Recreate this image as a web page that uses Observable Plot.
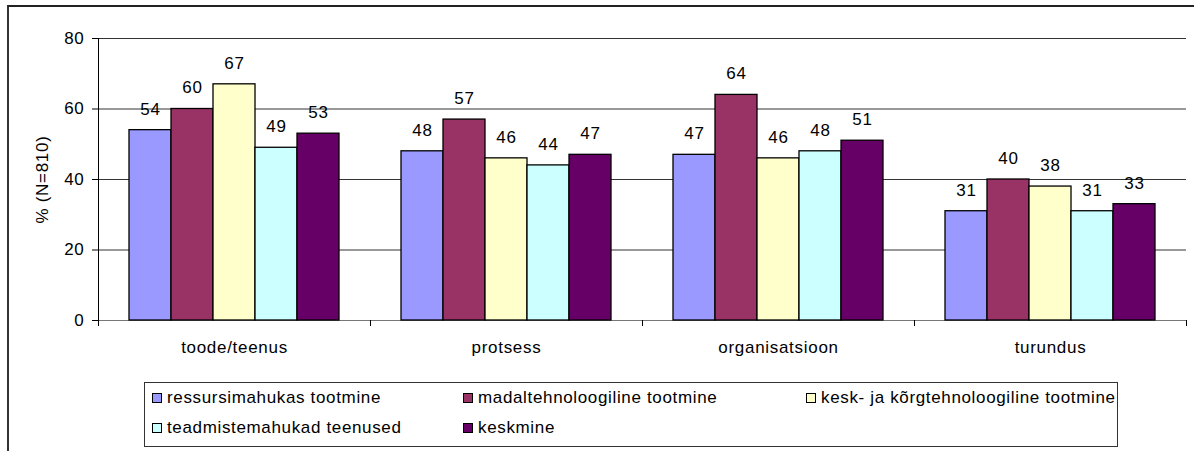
<!DOCTYPE html>
<html>
<head>
<meta charset="utf-8">
<script src="https://cdn.jsdelivr.net/npm/d3@7"></script>
<script src="https://cdn.jsdelivr.net/npm/@observablehq/plot@0.6"></script>
<style>
  html, body { margin: 0; padding: 0; background: #fff; }
  body { width: 1194px; height: 451px; overflow: hidden; position: relative; font-family: "Liberation Sans", Arial, sans-serif; }
  #frame { position: absolute; left: 7px; top: 5px; width: 1200px; height: 460px; border-left: 2px solid #333; border-top: 2px solid #222; box-sizing: border-box; pointer-events: none; }
  #chart { position: absolute; left: 0; top: 0; }
  #chart svg text { font-size: 17px; letter-spacing: 0.7px; }
  #legend { position: absolute; left: 144px; top: 382px; width: 974px; height: 65px; border: 1px solid #333; box-sizing: border-box; background: #fff; font-size: 17px; letter-spacing: 0.65px; color: #000; }
  .item { position: absolute; display: flex; align-items: center; white-space: nowrap; }
  .sw { width: 10px; height: 10px; border: 1px solid #000; margin-right: 5px; box-sizing: border-box; }
</style>
</head>
<body>
<div id="chart"></div>
<div id="frame"></div>
<div id="legend"></div>
<script>
const categories = ["toode/teenus", "protsess", "organisatsioon", "turundus"];
const series = ["ressursimahukas tootmine", "madaltehnoloogiline tootmine", "kesk- ja kõrgtehnoloogiline tootmine", "teadmistemahukad teenused", "keskmine"];
const colors = ["#9999FF", "#993366", "#FFFFCC", "#CCFFFF", "#660066"];
// values per series, in category order
const ressursimahukas = [54, 48, 47, 31];
const madaltehnoloogiline = [60, 57, 64, 40];
const keskKorgtehnoloogiline = [67, 46, 46, 38];
const teadmistemahukad = [49, 44, 48, 31];
const keskmine = [53, 47, 51, 33];
const yTicks = [0, 20, 40, 60, 80];
const yLabel = "% (N=810)";

const seriesValues = [ressursimahukas, madaltehnoloogiline, keskKorgtehnoloogiline, teadmistemahukad, keskmine];
const data = [];
categories.forEach((c, ci) => {
  series.forEach((s, si) => {
    data.push({cat: c, series: s, value: seriesValues[si][ci]});
  });
});

const font = '"Liberation Sans", Arial, sans-serif';
const plot = Plot.plot({
  width: 1194,
  height: 451,
  marginLeft: 98,
  marginRight: 8,
  marginTop: 38,
  marginBottom: 131,
  style: {fontFamily: font, fontSize: "17px", background: "transparent", overflow: "visible"},
  fx: {domain: categories, padding: 0, axis: "bottom", tickSize: 0, tickPadding: 20, label: null},
  x: {domain: series, paddingInner: 0, paddingOuter: 0.738, axis: null},
  y: {domain: [0, 80], ticks: yTicks, tickSize: 6, tickPadding: 8, label: yLabel, labelAnchor: "center", labelArrow: "none", labelOffset: 63, tickFormat: d => d},
  color: {domain: series, range: colors},
  marks: [
    Plot.ruleY(yTicks.filter(d => d > 0), {stroke: "#333", strokeWidth: 1}),
    Plot.ruleY([0], {stroke: "#777", strokeWidth: 1}),
    Plot.barY(data, {fx: "cat", x: "series", y: "value", fill: "series", stroke: "#000", strokeWidth: 1.3}),
    Plot.text(data, {fx: "cat", x: "series", y: "value", text: d => String(d.value), dy: -21, fill: "#000", fontSize: 17})
  ]
});
document.getElementById("chart").appendChild(plot);

// post-process: strip any label arrow, add left axis line and category boundary ticks from the plot's scales
const svg = d3.select(plot);
svg.selectAll("text").each(function () {
  const t = d3.select(this);
  if (t.text().includes(yLabel)) t.text(yLabel);
});
const ys = plot.scale("y");
const fxs = plot.scale("fx");
const y0 = ys.range[0], y1 = ys.range[1];
const step = (fxs.range[1] - fxs.range[0]) / fxs.domain.length;
const g = svg.append("g").attr("stroke", "#000").attr("stroke-width", 1);
g.append("line").attr("x1", fxs.range[0] + 0.5).attr("x2", fxs.range[0] + 0.5).attr("y1", y0).attr("y2", y1);
for (let i = 0; i <= fxs.domain.length; i++) {
  const x = fxs.range[0] + i * step + 0.5;
  g.append("line").attr("x1", x).attr("x2", x).attr("y1", y0).attr("y2", y0 + 6);
}

// legend
const legend = document.getElementById("legend");
const cols = [7, 318, 661];
series.forEach((s, i) => {
  const div = document.createElement("div");
  div.className = "item";
  const col = i < 3 ? i : i - 3;
  const row = i < 3 ? 0 : 1;
  div.style.left = cols[col] + "px";
  div.style.top = (row === 0 ? 5 : 35) + "px";
  div.innerHTML = `<span class="sw" style="background:${colors[i]}"></span><span>${s}</span>`;
  legend.appendChild(div);
});
</script>
</body>
</html>
